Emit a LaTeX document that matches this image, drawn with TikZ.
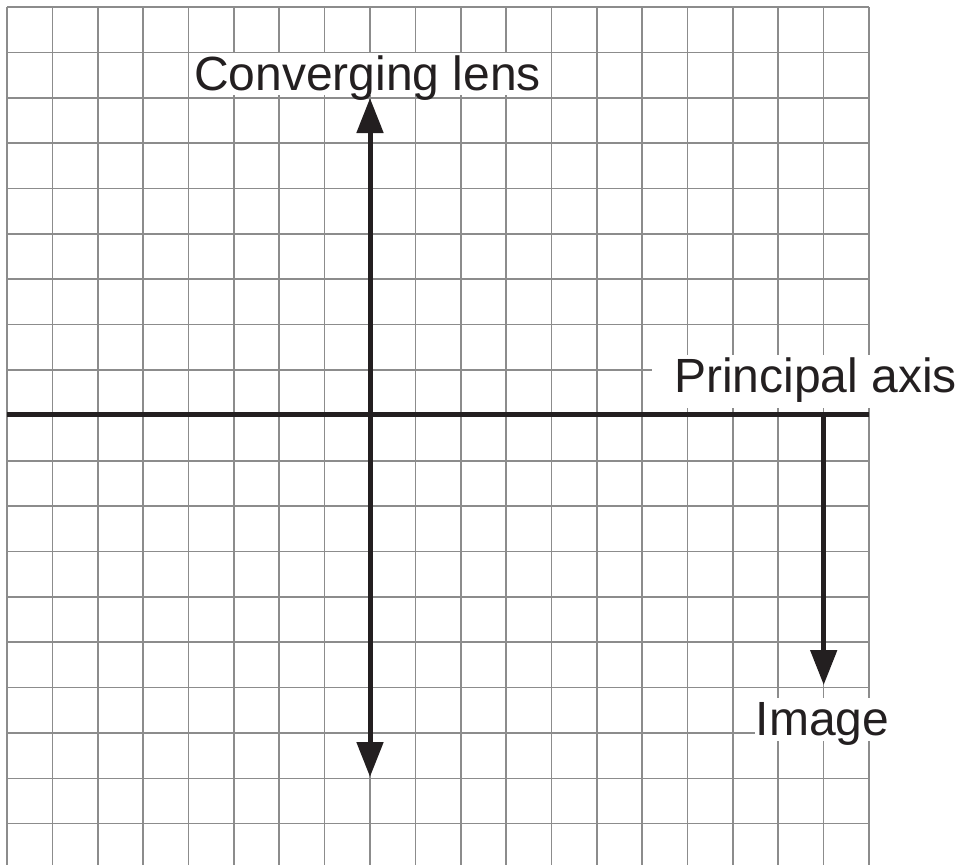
\documentclass[tikz,border=0pt]{standalone}
\usepackage{fontspec}
\setmainfont{Liberation Sans}
\usetikzlibrary{arrows.meta}
\definecolor{ink}{HTML}{231F20}
\definecolor{gridgray}{HTML}{8C8C8C}
\begin{document}
\begin{tikzpicture}[x=1pt,y=-1pt,
  gridline/.style={draw=gridgray,line width=1.6pt},
  heavy/.style={draw=ink,line width=5pt},
  tri/.tip={Triangle[length=35pt,width=26pt]},
  lbl/.style={inner sep=0pt,anchor=base west,text=ink,font=\fontsize{48}{50}\selectfont},
  mask/.style={fill=white}]
\useasboundingbox (0,0) rectangle (961,865);
% grid
\foreach \k in {0,...,19} \draw[gridline] ({7+45.37*\k},7) -- ({7+45.37*\k},865);
\foreach \k in {0,...,18} \draw[gridline] (7,{7+45.37*\k}) -- (869,{7+45.37*\k});
% white label backgrounds
\fill[mask] (193,53) rectangle (543,95);
\fill[mask] (652,355) rectangle (961,408);
\fill[mask] (755,698) rectangle (890,741);
% labels
\node[lbl] (lenslabel) at (194,90.5) {Converging lens};
\node[lbl] (axislabel) at (674,392) {Principal axis};
\node[lbl] (imagelabel) at (755.5,735) {Image};
% coordinates
\coordinate (axisL) at (7,414.5);
\coordinate (axisR) at (869,414.5);
\coordinate (lensTop) at (370,98);
\coordinate (lensBot) at (370,777);
\coordinate (imgBase) at (823.7,414.5);
\coordinate (imgTip) at (823.7,685);
% heavy lines
\draw[heavy] (axisL) -- (axisR);
\draw[heavy,tri-tri] (lensBot) -- (lensTop);
\draw[heavy,-tri] (imgBase) -- (imgTip);
\end{tikzpicture}
\end{document}
